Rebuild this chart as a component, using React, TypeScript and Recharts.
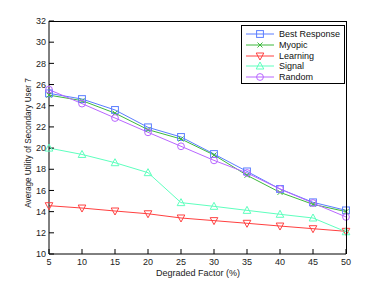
import { LineChart, Line, XAxis, YAxis, Label } from "recharts";

// ─── Data ────────────────────────────────────────────────────────────────────
const factors = [5, 10, 15, 20, 25, 30, 35, 40, 45, 50];
const bestResponse = [25.17, 24.63, 23.6, 21.96, 21.05, 19.44, 17.8, 16.14, 14.88, 14.12];
const myopic = [25.0, 24.48, 23.3, 21.74, 20.86, 19.35, 17.43, 15.82, 14.69, 14.0];
const learning = [14.56, 14.34, 14.06, 13.8, 13.4, 13.15, 12.9, 12.64, 12.39, 12.14];
const signal = [20.0, 19.4, 18.62, 17.68, 14.85, 14.5, 14.12, 13.75, 13.4, 12.1];
const random = [25.52, 24.2, 22.84, 21.49, 20.17, 18.84, 17.65, 16.14, 14.81, 13.5];
const xTicks = [5, 10, 15, 20, 25, 30, 35, 40, 45, 50];
const yTicks = [10, 12, 14, 16, 18, 20, 22, 24, 26, 28, 30, 32];

const data = factors.map((f, i) => ({
  factor: f,
  best: bestResponse[i],
  myopic: myopic[i],
  learning: learning[i],
  signal: signal[i],
  random: random[i],
}));

type Shape = "square" | "x" | "down" | "up" | "circle";

const SERIES: { key: string; name: string; color: string; shape: Shape }[] = [
  { key: "best", name: "Best Response", color: "#5a7dff", shape: "square" },
  { key: "myopic", name: "Myopic", color: "#3cb83c", shape: "x" },
  { key: "learning", name: "Learning", color: "#ff4040", shape: "down" },
  { key: "signal", name: "Signal", color: "#5effbe", shape: "up" },
  { key: "random", name: "Random", color: "#b866ff", shape: "circle" },
];

const FONT = "'Liberation Sans', Arial, Helvetica, sans-serif";

// plot frame, matches the chart margins / axis sizes below
const PLOT = { left: 49, top: 21, width: 297, height: 233 };

// ─── Markers ─────────────────────────────────────────────────────────────────
const Marker = ({ cx, cy, color, shape }: { cx: number; cy: number; color: string; shape: Shape }) => {
  const s = 3.4;
  if (shape === "square")
    return <rect x={cx - s} y={cy - s} width={2 * s} height={2 * s} fill="none" stroke={color} strokeWidth={1} />;
  if (shape === "circle") return <circle cx={cx} cy={cy} r={s} fill="none" stroke={color} strokeWidth={1} />;
  if (shape === "x")
    return (
      <path
        d={`M${cx - 2.5},${cy - 2.5}L${cx + 2.5},${cy + 2.5}M${cx - 2.5},${cy + 2.5}L${cx + 2.5},${cy - 2.5}`}
        stroke={color}
        strokeWidth={1}
      />
    );
  if (shape === "down")
    return (
      <path d={`M${cx - 3.8},${cy - 3}L${cx + 3.8},${cy - 3}L${cx},${cy + 4}Z`} fill="none" stroke={color} strokeWidth={1} />
    );
  return <path d={`M${cx - 3.8},${cy + 3}L${cx + 3.8},${cy + 3}L${cx},${cy - 4}Z`} fill="none" stroke={color} strokeWidth={1} />;
};

const makeDot = (color: string, shape: Shape) => (props: any) => {
  const { cx, cy, index } = props;
  if (cx == null || cy == null) return <g key={index} />;
  return (
    <g key={index}>
      <Marker cx={cx} cy={cy} color={color} shape={shape} />
    </g>
  );
};

// ─── Legend ──────────────────────────────────────────────────────────────────
const ChartLegend = () => (
  <div
    style={{
      position: "absolute",
      left: 241,
      top: 25,
      width: 104,
      height: 59,
      border: "1px solid #000",
      background: "#fff",
      boxSizing: "border-box",
      paddingTop: 3,
      fontFamily: FONT,
      fontSize: 9,
      color: "#111",
    }}
  >
    {SERIES.map((s) => (
      <div key={s.key} style={{ display: "flex", alignItems: "center", height: 10.7 }}>
        <svg width={34} height={10} style={{ marginLeft: 2, flexShrink: 0 }}>
          <line x1={2} y1={5} x2={30} y2={5} stroke={s.color} strokeWidth={1} />
          <Marker cx={16} cy={5} color={s.color} shape={s.shape} />
        </svg>
        <span style={{ marginLeft: 1, lineHeight: "10px" }}>{s.name}</span>
      </div>
    ))}
  </div>
);

// ─── Chart ───────────────────────────────────────────────────────────────────
export default function App() {
  return (
    <div style={{ position: "relative", width: 382, height: 287, background: "#fff" }}>
      <style>{`body{margin:0}`}</style>
      <LineChart width={382} height={287} data={data} margin={{ top: 21, right: 36, bottom: 0, left: 0 }}>
        <XAxis
          dataKey="factor"
          type="number"
          domain={[5, 50]}
          ticks={xTicks}
          height={33}
          tickSize={-5}
          tickMargin={10}
          axisLine={{ stroke: "#000" }}
          tickLine={{ stroke: "#000" }}
          tick={{ fill: "#222", fontSize: 9, fontFamily: FONT }}
        >
          <Label
            content={() => (
              <text x={198} y={276} textAnchor="middle" fontSize={9} fontFamily={FONT} fill="#222">
                Degraded Factor (%)
              </text>
            )}
          />
        </XAxis>
        <YAxis
          type="number"
          domain={[10, 32]}
          ticks={yTicks}
          width={49}
          tickSize={-5}
          tickMargin={8}
          axisLine={{ stroke: "#000" }}
          tickLine={{ stroke: "#000" }}
          tick={{ fill: "#222", fontSize: 9, fontFamily: FONT }}
        >
          <Label
            content={() => (
              <text
                x={29}
                y={143}
                transform="rotate(-90 29 143)"
                textAnchor="middle"
                dominantBaseline="middle"
                fontSize={8.2}
                fontFamily={FONT}
                fill="#222"
              >
                Average Utility of Secondary User 7
              </text>
            )}
          />
        </YAxis>
        {SERIES.map((s) => (
          <Line
            key={s.key}
            type="linear"
            dataKey={s.key}
            name={s.name}
            stroke={s.color}
            strokeWidth={1}
            dot={makeDot(s.color, s.shape)}
            isAnimationActive={false}
          />
        ))}
      </LineChart>
      {/* top / right edges of the axes box */}
      <div
        style={{
          position: "absolute",
          left: PLOT.left,
          top: PLOT.top - 0.5,
          width: PLOT.width + 0.5,
          height: PLOT.height + 0.5,
          borderTop: "1px solid #000",
          borderRight: "1px solid #000",
          boxSizing: "border-box",
          pointerEvents: "none",
        }}
      />
      <ChartLegend />
    </div>
  );
}
